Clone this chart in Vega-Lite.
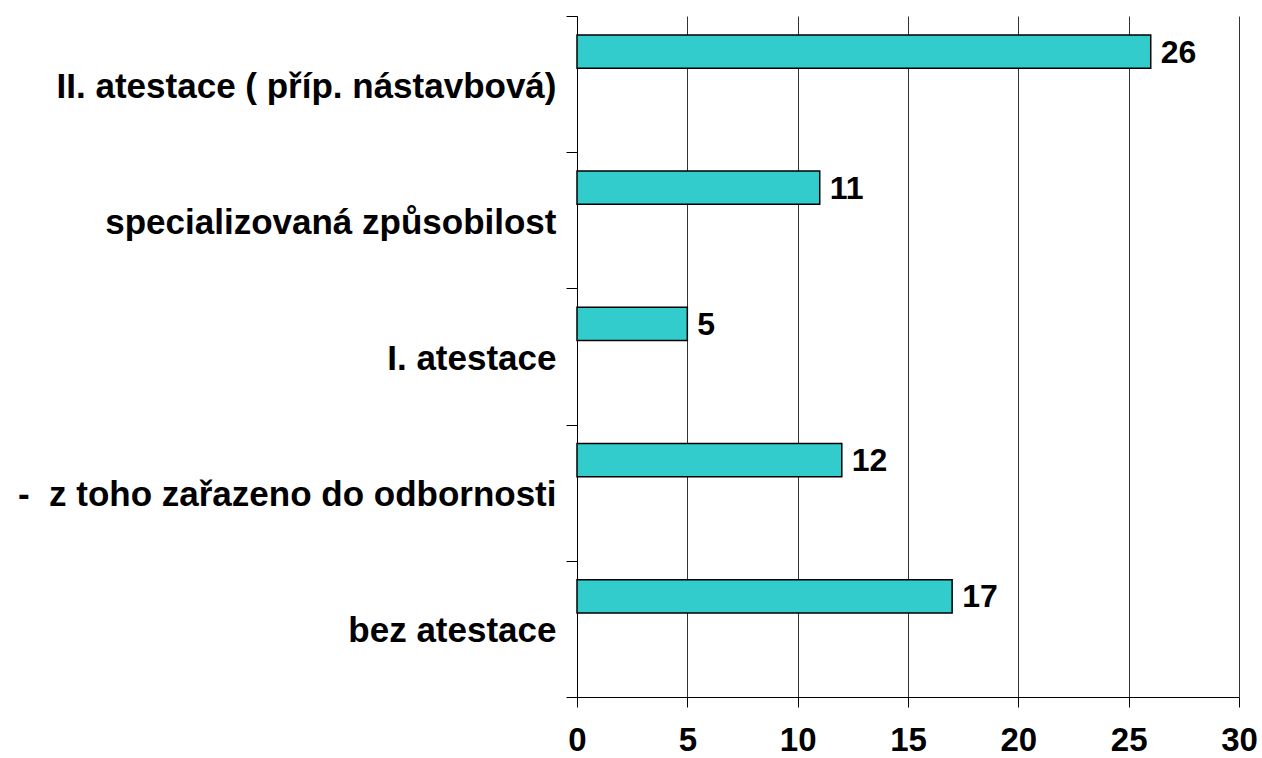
{
  "$schema": "https://vega.github.io/schema/vega-lite/v6.json",
  "width": 662,
  "height": 681,
  "autosize": "none",
  "padding": {"left": 577, "top": 16, "right": 23, "bottom": 61},
  "background": "white",
  "config": {
    "view": {"stroke": null},
    "font": "Liberation Sans"
  },
  "data": {
    "values": [
      {"cat": "II. atestace ( příp. nástavbová)", "s": "a", "value": 26},
      {"cat": "specializovaná způsobilost", "s": "a", "value": 11},
      {"cat": "I. atestace", "s": "a", "value": 5},
      {"cat": "-\u00a0\u00a0z toho zařazeno do odbornosti", "s": "a", "value": 12},
      {"cat": "bez atestace", "s": "a", "value": 17}
    ]
  },
  "encoding": {
    "y": {
      "field": "cat",
      "type": "nominal",
      "sort": null,
      "title": null,
      "scale": {"paddingInner": 0, "paddingOuter": 0},
      "axis": {
        "tickBand": "extent",
        "tickSize": 11,
        "tickColor": "#000",
        "tickWidth": 1,
        "domainColor": "#000",
        "domainWidth": 1,
        "labelFont": "Liberation Sans",
        "labelFontSize": 35,
        "labelFontWeight": "bold",
        "labelColor": "#000",
        "labelPadding": 10,
        "labelOffset": 2,
        "labelLimit": 700,
        "grid": false
      }
    },
    "yOffset": {
      "field": "s",
      "type": "nominal",
      "scale": {"domain": ["a", "b"], "paddingInner": 0.49, "paddingOuter": 0.29}
    },
    "x": {
      "field": "value",
      "type": "quantitative",
      "title": null,
      "scale": {"domain": [0, 30], "nice": false},
      "axis": {
        "values": [0, 5, 10, 15, 20, 25, 30],
        "grid": true,
        "gridColor": "#000",
        "gridWidth": 1,
        "gridOpacity": 0.8,
        "tickSize": 10,
        "tickColor": "#000",
        "domainColor": "#000",
        "labelFont": "Liberation Sans",
        "labelFontSize": 33,
        "labelFontWeight": "bold",
        "labelColor": "#000",
        "labelPadding": 17,
        "labelFlush": false
      }
    }
  },
  "layer": [
    {
      "mark": {"type": "bar", "fill": "#33CCCC", "stroke": "#000", "strokeWidth": 1.5}
    },
    {
      "mark": {
        "type": "text",
        "align": "left",
        "baseline": "middle",
        "dx": 10,
        "dy": 1,
        "font": "Liberation Sans",
        "fontSize": 32,
        "fontWeight": "bold",
        "color": "#000"
      },
      "encoding": {"text": {"field": "value", "type": "quantitative"}}
    }
  ]
}
